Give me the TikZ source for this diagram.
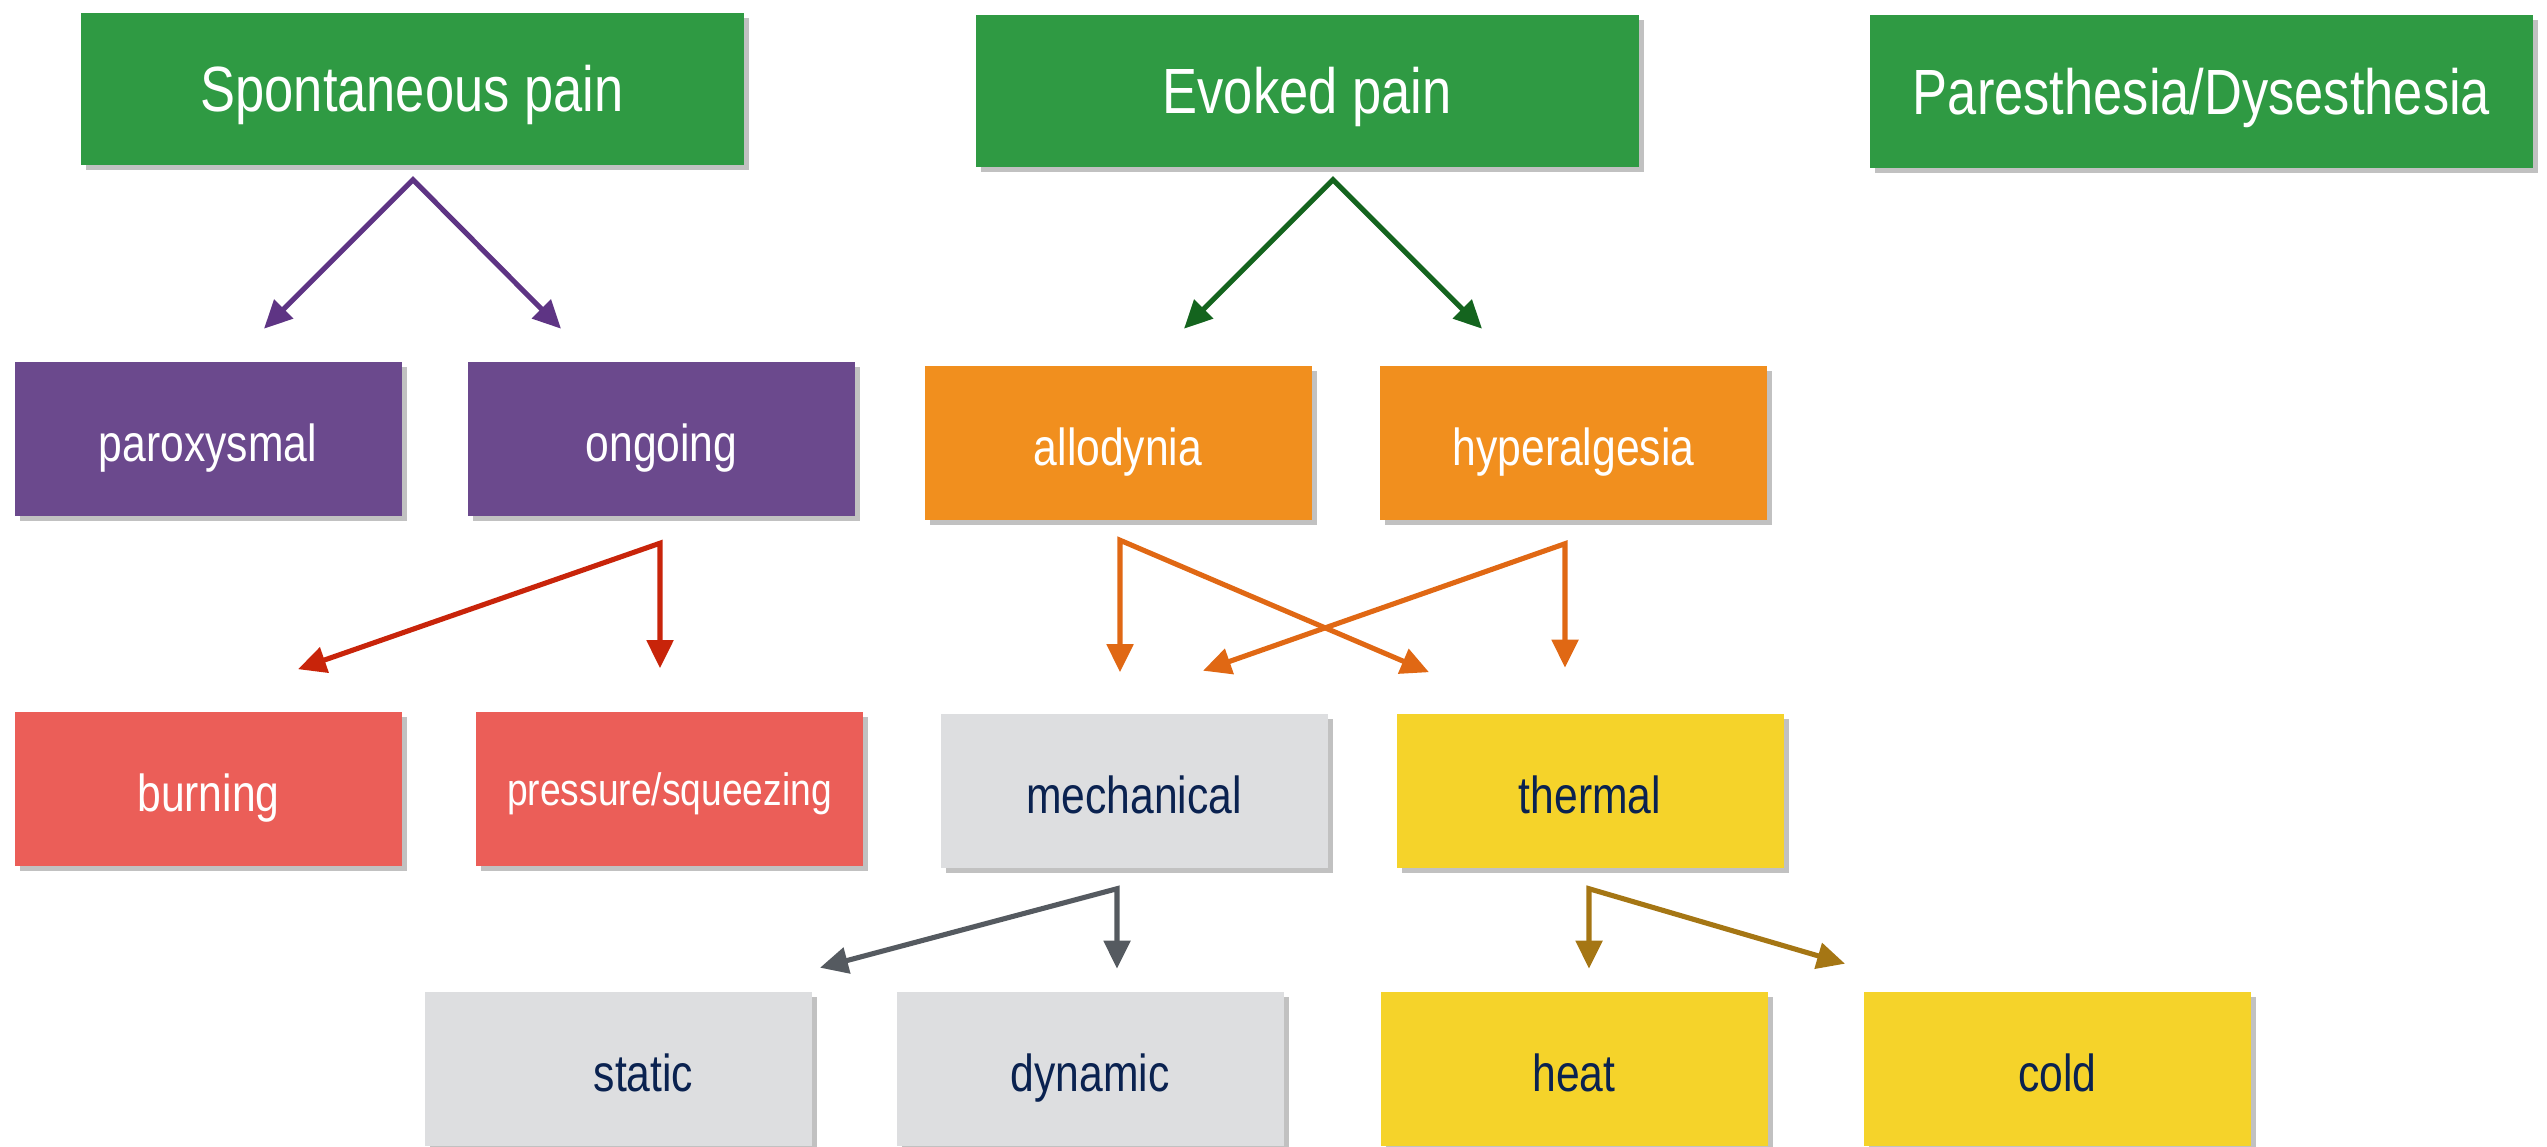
\documentclass[tikz,border=0pt]{standalone}
\usepackage{fontspec}
\setmainfont[FakeStretch=0.82]{Liberation Sans}
\usetikzlibrary{arrows.meta,calc,shadows}
\definecolor{boxGreen}{RGB}{47,154,67}
\definecolor{boxPurple}{RGB}{107,73,141}
\definecolor{boxOrange}{RGB}{241,143,30}
\definecolor{boxRed}{RGB}{235,94,88}
\definecolor{boxGray}{RGB}{221,222,224}
\definecolor{boxYellow}{RGB}{245,211,42}
\definecolor{textNavy}{RGB}{10,34,80}
\definecolor{arrPurple}{RGB}{94,52,132}
\definecolor{arrGreen}{RGB}{20,100,30}
\definecolor{arrRed}{RGB}{200,36,10}
\definecolor{arrOrange}{RGB}{224,104,20}
\definecolor{arrGray}{RGB}{85,90,96}
\definecolor{arrBrown}{RGB}{165,118,20}
\tikzset{
  card/.style={rectangle, inner sep=0pt, minimum width=3.87cm, minimum height=1.54cm,
    text height=15.4pt, text depth=2.6pt, font=\fontsize{14.8}{17}\selectfont,
    drop shadow={shadow xshift=0.5mm, shadow yshift=-0.5mm, opacity=0.35, fill=black!70}},
  headcard/.style={card, minimum width=6.63cm, minimum height=1.52cm, fill=boxGreen,
    text=white, font=\fontsize{18.2}{21}\selectfont, text height=16pt, text depth=3pt},
  lightcard/.style={card, text=white},
  darkcard/.style={card, text=textNavy},
  forkln/.style={{Triangle[length=2.8mm,width=2.6mm]}-{Triangle[length=2.8mm,width=2.6mm]},
    line width=1.45pt, line join=miter},
}

\begin{document}
\begin{tikzpicture}
  \useasboundingbox (0,0) rectangle (25.47,-11.46);
  % top row
  \node[headcard] (spont) at (4.12,-0.89) {Spontaneous pain};
  \node[headcard] (evoked) at (13.07,-0.91) {Evoked pain};
  \node[headcard] (pares) at (22.015,-0.915) {Paresthesia/Dysesthesia};
  % second row
  \node[lightcard, fill=boxPurple] (parox) at (2.08,-4.385) {paroxysmal};
  \node[lightcard, fill=boxPurple] (ongoing) at (6.615,-4.385) {ongoing};
  \node[lightcard, fill=boxOrange] (allo) at (11.18,-4.425) {allodynia};
  \node[lightcard, fill=boxOrange] (hyper) at (15.735,-4.425) {hyperalgesia};
  % third row
  \node[lightcard, fill=boxRed] (burning) at (2.085,-7.885) {burning};
  \node[lightcard, fill=boxRed, font=\fontsize{12.9}{15}\selectfont, text height=12pt, text depth=2.6pt]
    (pressure) at (6.695,-7.885) {pressure/squeezing};
  \node[darkcard, fill=boxGray] (mech) at (11.34,-7.91) {mechanical};
  \node[darkcard, fill=boxYellow] (thermal) at (15.9,-7.91) {thermal};
  % bottom row
  \node[darkcard, fill=boxGray] (static) at (6.185,-10.685) {\hspace*{5mm}static};
  \node[darkcard, fill=boxGray] (dynamic) at (10.9,-10.685) {dynamic};
  \node[darkcard, fill=boxYellow] (heat) at (15.74,-10.685) {heat};
  \node[darkcard, fill=boxYellow] (cold) at (20.575,-10.685) {cold};

  % forks
  \coordinate (spontfork) at ($(spont.south)+(0.01,-0.14)$);
  \coordinate (paroxtip) at ($(spontfork)+(-1.49,-1.49)$);
  \coordinate (ongotip) at ($(spontfork)+(1.48,-1.49)$);
  \draw[forkln, arrPurple] (paroxtip) -- (spontfork) -- (ongotip);

  \coordinate (evokedfork) at ($(evoked.south)+(0.26,-0.12)$);
  \coordinate (allotip) at ($(evokedfork)+(-1.49,-1.49)$);
  \coordinate (hypertip) at ($(evokedfork)+(1.49,-1.49)$);
  \draw[forkln, arrGreen] (allotip) -- (evokedfork) -- (hypertip);

  \coordinate (ongofork) at ($(ongoing.south)+(-0.015,-0.27)$);
  \coordinate (burntip) at ($(ongofork)+(-3.62,-1.26)$);
  \coordinate (presstip) at ($(ongofork)+(0,-1.25)$);
  \draw[forkln, arrRed] (burntip) -- (ongofork) -- (presstip);

  \coordinate (allofork) at ($(allo.south)+(0.02,-0.2)$);
  \coordinate (allomech) at ($(allofork)+(0,-1.32)$);
  \coordinate (allotherm) at ($(allofork)+(3.09,-1.32)$);
  \draw[forkln, arrOrange] (allomech) -- (allofork) -- (allotherm);

  \coordinate (hyperfork) at ($(hyper.south)+(-0.085,-0.235)$);
  \coordinate (hypertherm) at ($(hyperfork)+(0,-1.24)$);
  \coordinate (hypermech) at ($(hyperfork)+(-3.62,-1.27)$);
  \draw[forkln, arrOrange] (hypermech) -- (hyperfork) -- (hypertherm);

  \coordinate (mechfork) at ($(mech.south)+(-0.17,-0.2)$);
  \coordinate (statictip) at ($(mechfork)+(-2.97,-0.79)$);
  \coordinate (dyntip) at ($(mechfork)+(0,-0.8)$);
  \draw[forkln, arrGray] (statictip) -- (mechfork) -- (dyntip);

  \coordinate (thermfork) at ($(thermal.south)+(-0.01,-0.2)$);
  \coordinate (heattip) at ($(thermfork)+(0,-0.8)$);
  \coordinate (coldtip) at ($(thermfork)+(2.56,-0.75)$);
  \draw[forkln, arrBrown] (heattip) -- (thermfork) -- (coldtip);
\end{tikzpicture}
\end{document}
